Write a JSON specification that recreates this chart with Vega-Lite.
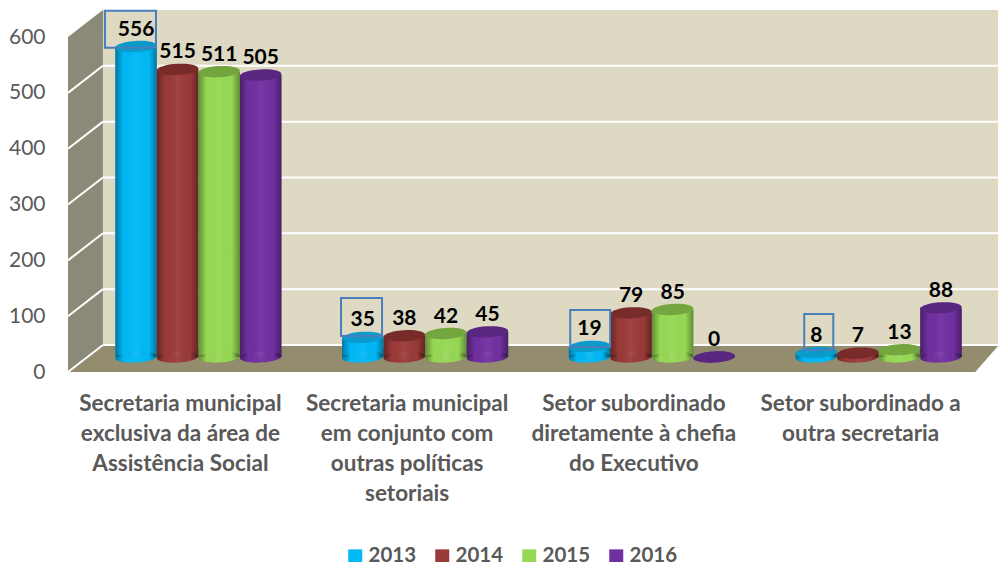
{
"$schema":"https://vega.github.io/schema/vega-lite/v6.json",
"width":907,"height":335,
"autosize":{"type":"none"},
"padding":{"left":85,"top":22,"right":6,"bottom":205},
"background":"white",
"config":{"view":{"stroke":null},"font":"Lato","text":{"font":"Lato"}},
"datasets":{
"bars":[
{"category":"Secretaria municipal|exclusiva da área de|Assistência Social","year":"2013","value":556},
{"category":"Secretaria municipal|exclusiva da área de|Assistência Social","year":"2014","value":515},
{"category":"Secretaria municipal|exclusiva da área de|Assistência Social","year":"2015","value":511},
{"category":"Secretaria municipal|exclusiva da área de|Assistência Social","year":"2016","value":505},
{"category":"Secretaria municipal|em conjunto com|outras políticas|setoriais","year":"2013","value":35},
{"category":"Secretaria municipal|em conjunto com|outras políticas|setoriais","year":"2014","value":38},
{"category":"Secretaria municipal|em conjunto com|outras políticas|setoriais","year":"2015","value":42},
{"category":"Secretaria municipal|em conjunto com|outras políticas|setoriais","year":"2016","value":45},
{"category":"Setor subordinado|diretamente à chefia|do Executivo","year":"2013","value":19},
{"category":"Setor subordinado|diretamente à chefia|do Executivo","year":"2014","value":79},
{"category":"Setor subordinado|diretamente à chefia|do Executivo","year":"2015","value":85},
{"category":"Setor subordinado|diretamente à chefia|do Executivo","year":"2016","value":0},
{"category":"Setor subordinado a|outra secretaria","year":"2013","value":8},
{"category":"Setor subordinado a|outra secretaria","year":"2014","value":7},
{"category":"Setor subordinado a|outra secretaria","year":"2015","value":13},
{"category":"Setor subordinado a|outra secretaria","year":"2016","value":88}
],
"leftWall":[{"a":-0.075,"top":573,"bottom":-26.9},{"a":0.079,"top":621.5,"bottom":21.5}],
"backWall":[{"a":0.079,"b":4.03,"top":621.5,"bottom":21.5}],
"floor":[{"y":-26.9,"a":-0.075,"b":3.926},{"y":21.5,"a":0.079,"b":4.03}],
"grid":[
{"a":-0.075,"b":0.079,"f":-26.9,"k":21.5,"c":4.03},
{"a":-0.075,"b":0.079,"f":73.1,"k":121.5,"c":4.03},
{"a":-0.075,"b":0.079,"f":173.1,"k":221.5,"c":4.03},
{"a":-0.075,"b":0.079,"f":273.1,"k":321.5,"c":4.03},
{"a":-0.075,"b":0.079,"f":373.1,"k":421.5,"c":4.03},
{"a":-0.075,"b":0.079,"f":473.1,"k":521.5,"c":4.03}
],
"boxes":[
{"a":0.088,"b":0.313,"top":620,"bottom":553.8},
{"a":1.129,"b":1.31,"top":105.7,"bottom":37.6},
{"a":2.14,"b":2.316,"top":84.2,"bottom":17.9},
{"a":3.172,"b":3.3,"top":77,"bottom":12.5}
]
},
"resolve":{"scale":{"x":"independent"}},
"layer":[
{"data":{"name":"backWall"},"mark":{"type":"rect","fill":"#DDD9C3"},
 "encoding":{"x":{"field":"a","type":"quantitative","scale":{"domain":[0,4]},"axis":null},"x2":{"field":"b"},
 "y":{"field":"top","type":"quantitative","scale":{"domain":[0,600],"nice":false,"zero":false},
  "axis":{"title":null,"values":[0,100,200,300,400,500,600],"domain":false,"ticks":false,"grid":false,"labelOffset":15,"labelPadding":40,"labelFontSize":21,"labelColor":"#595959","labelFont":"Lato","labelFontWeight":"normal"}},
 "y2":{"field":"bottom"}}},
{"data":{"name":"leftWall"},"mark":{"type":"area","fill":"#8B8A78","orient":"vertical"},
 "encoding":{"x":{"field":"a","type":"quantitative","scale":{"domain":[0,4]},"axis":null},
 "y":{"field":"top","type":"quantitative"},"y2":{"field":"bottom"}}},
{"data":{"name":"floor"},"mark":{"type":"area","fill":"#938C6E","orient":"horizontal"},
 "encoding":{"y":{"field":"y","type":"quantitative"},
 "x":{"field":"a","type":"quantitative","scale":{"domain":[0,4]},"axis":null},"x2":{"field":"b"}}},
{"data":{"name":"grid"},"mark":{"type":"rule","color":"white","strokeWidth":2},
 "encoding":{"x":{"field":"a","type":"quantitative","scale":{"domain":[0,4]},"axis":null},"x2":{"field":"b"},
 "y":{"field":"f","type":"quantitative"},"y2":{"field":"k"}}},
{"data":{"name":"grid"},"mark":{"type":"rule","color":"white","strokeWidth":2},
 "encoding":{"x":{"field":"b","type":"quantitative","scale":{"domain":[0,4]},"axis":null},"x2":{"field":"c"},
 "y":{"field":"k","type":"quantitative"}}},
{"data":{"name":"bars"},"mark":{"type":"bar","stroke":null},
 "encoding":{
 "x":{"field":"category","type":"nominal","sort":null,"scale":{"paddingInner":0.267,"paddingOuter":0.1335},
  "axis":{"title":null,"orient":"bottom","domain":false,"ticks":false,"labelAngle":0,"labelAlign":"center","labelBaseline":"top","labelPadding":35,"labelOffset":-18,"labelFontSize":22.5,"labelFontWeight":"bold","labelFont":"Lato","labelColor":"#595959","labelLineHeight":30,"labelLimit":400,"labelExpr":"split(datum.label,'|')"}},
 "xOffset":{"field":"year","type":"nominal","scale":{"paddingInner":0,"paddingOuter":0}},
 "y":{"field":"value","type":"quantitative","stack":null},
 "color":{"field":"year","type":"nominal","scale":{"domain":["2013","2014","2015","2016"],"range":["#00B8F5","#9A3A38","#96D854","#7030A0"]},
  "legend":{"title":null,"orient":"none","legendX":260,"legendY":524,"direction":"horizontal","columns":4,"symbolType":"square","symbolSize":196,"symbolStrokeWidth":0,"labelFontSize":20.5,"labelFontWeight":"bold","labelFont":"Lato","labelColor":"#595959","columnPadding":15,"labelOffset":3,"labelLimit":100}}}},
{"data":{"name":"bars"},"mark":{"type":"point","filled":true,"size":1722,"strokeWidth":0,"opacity":1,"shape":"M-1,0.05A1,0.27,-3,1,1,1,-0.05A1,0.27,-3,1,1,-1,0.05Z"},
 "encoding":{
 "x":{"field":"category","type":"nominal","sort":null,"scale":{"paddingInner":0.267,"paddingOuter":0.1335},"axis":null},
 "xOffset":{"field":"year","type":"nominal","scale":{"paddingInner":0,"paddingOuter":0}},
 "y":{"datum":0,"type":"quantitative"},
 "color":{"field":"year","type":"nominal","legend":null}}},
{"data":{"name":"bars"},"mark":{"type":"point","filled":true,"size":1722,"strokeWidth":0,"opacity":1,"shape":"M-1,0.05A1,0.27,-3,1,1,1,-0.05A1,0.27,-3,1,1,-1,0.05Z","fill":{"x1":0,"y1":0,"x2":1,"y2":0,"gradient":"linear","stops":[{"offset":0,"color":"rgba(0,0,0,0.35)"},{"offset":0.2,"color":"rgba(0,0,0,0)"},{"offset":0.5,"color":"rgba(255,255,255,0.05)"},{"offset":0.8,"color":"rgba(0,0,0,0)"},{"offset":1,"color":"rgba(0,0,0,0.35)"}]}},
 "encoding":{
 "x":{"field":"category","type":"nominal","sort":null,"scale":{"paddingInner":0.267,"paddingOuter":0.1335},"axis":null},
 "xOffset":{"field":"year","type":"nominal","scale":{"paddingInner":0,"paddingOuter":0}},
 "y":{"datum":0,"type":"quantitative"}}},
{"data":{"name":"bars"},"mark":{"type":"bar","fill":{"x1":0,"y1":0,"x2":1,"y2":0,"gradient":"linear","stops":[{"offset":0,"color":"rgba(0,0,0,0.35)"},{"offset":0.2,"color":"rgba(0,0,0,0)"},{"offset":0.5,"color":"rgba(255,255,255,0.05)"},{"offset":0.8,"color":"rgba(0,0,0,0)"},{"offset":1,"color":"rgba(0,0,0,0.35)"}]}},
 "encoding":{
 "x":{"field":"category","type":"nominal","sort":null,"scale":{"paddingInner":0.267,"paddingOuter":0.1335},"axis":null},
 "xOffset":{"field":"year","type":"nominal","scale":{"paddingInner":0,"paddingOuter":0}},
 "y":{"field":"value","type":"quantitative","stack":null}}},
{"data":{"name":"bars"},"mark":{"type":"point","filled":true,"size":1722,"strokeWidth":0,"opacity":1,"shape":"M-1,0.05A1,0.27,-3,1,1,1,-0.05A1,0.27,-3,1,1,-1,0.05Z"},
 "encoding":{
 "x":{"field":"category","type":"nominal","sort":null,"scale":{"paddingInner":0.267,"paddingOuter":0.1335},"axis":null},
 "xOffset":{"field":"year","type":"nominal","scale":{"paddingInner":0,"paddingOuter":0}},
 "y":{"field":"value","type":"quantitative"},
 "fill":{"field":"year","type":"nominal","scale":{"domain":["2013","2014","2015","2016"],"range":["#0A9BCB","#772C2A","#74A63F","#592680"]},"legend":null}}},
{"data":{"name":"boxes"},"mark":{"type":"rect","fill":null,"stroke":"#4A7EBB","strokeWidth":2},
 "encoding":{"x":{"field":"a","type":"quantitative","scale":{"domain":[0,4]},"axis":null},"x2":{"field":"b"},
 "y":{"field":"top","type":"quantitative"},"y2":{"field":"bottom"}}},
{"data":{"name":"bars"},"mark":{"type":"text","font":"Lato","fontWeight":"bold","fontSize":21,"color":"black","dy":-17,"baseline":"middle"},
 "encoding":{
 "x":{"field":"category","type":"nominal","sort":null,"scale":{"paddingInner":0.267,"paddingOuter":0.1335},"axis":null},
 "xOffset":{"field":"year","type":"nominal","scale":{"paddingInner":0,"paddingOuter":0}},
 "y":{"field":"value","type":"quantitative","stack":null},
 "text":{"field":"value","type":"quantitative"}}}
]
}
